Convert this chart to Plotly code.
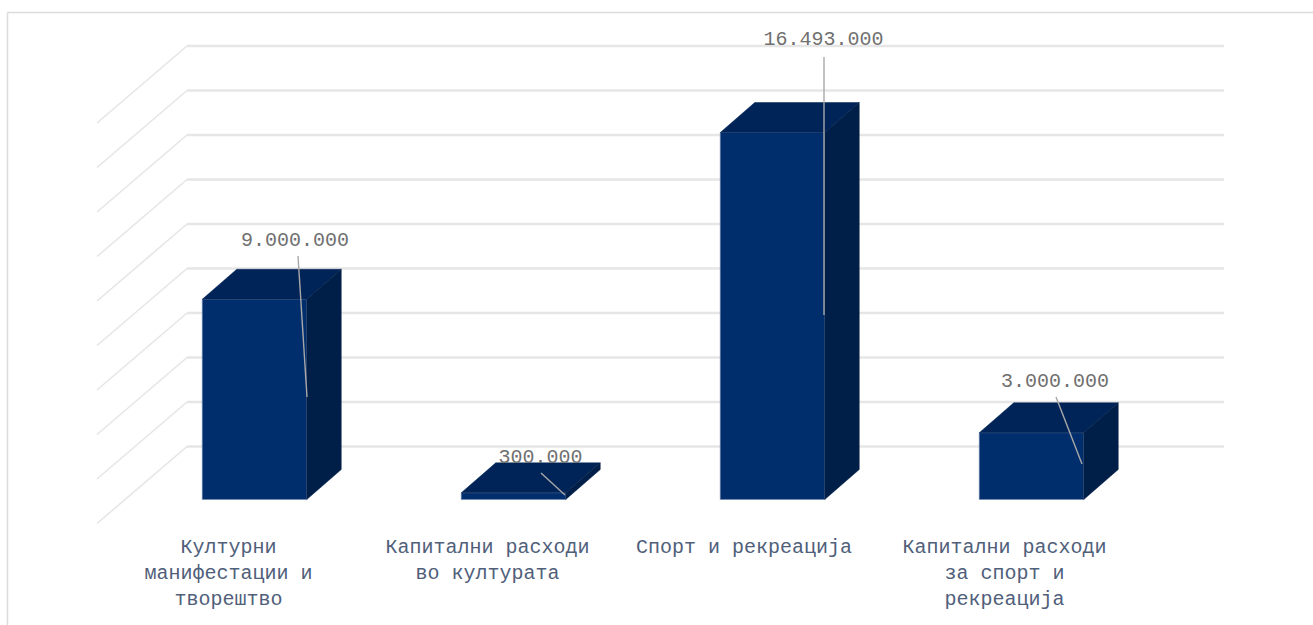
import plotly.graph_objects as go

# ---- data ----
categories = ["Културни<br>манифестации и<br>творештво",
              "Капитални расходи<br>во културата",
              "Спорт и рекреација",
              "Капитални расходи<br>за спорт и<br>рекреација"]
values = [9000000, 300000, 16493000, 3000000]
value_labels = ["9.000.000", "300.000", "16.493.000", "3.000.000"]
grid_values = [0, 2000000, 4000000, 6000000, 8000000, 10000000,
               12000000, 14000000, 16000000, 18000000]

# ---- scale set-up (pixels per axis unit, used only for layout geometry) ----
W, H, PLOT_B = 1313, 625, 530
PX_X = 259.0          # pixels per category step
PX_Y = 22.25e-6       # pixels per value unit
X0, Y0 = 254.5, 499.5 # pixel of category 0 centre / zero value on front plane
dx = lambda p: p / PX_X
dy = lambda p: p / PX_Y
xv = lambda p: (p - X0) / PX_X
yv = lambda p: (Y0 - p) / PX_Y

BAR_W = dx(104.5)
DEPTH_X, DEPTH_Y = dx(34.5), dy(30)
WALL_X, WALL_Y = dx(62), dy(53)       # back wall relative to the bar plane

# label centres and leader ends, pixel layout: (label x, label y, x1, y1, x2, y2)
label_layout = [(295, 241, 298, 256, 307, 397),
                (540.5, 458, 541, 473, 565, 495),
                (823.5, 40, 824, 57, 824, 315),
                (1055, 382, 1056, 397, 1082, 464)]
# small per-label pixel nudges of the category captions
caption_nudge = [-26, -26, -28.5, -27]

FRONT, TOP, SIDE = "#002d6b", "#002457", "#001f48"
GRID = "#e6e6e6"
FONT = "Liberation Mono"

xs = list(range(len(values)))
fig = go.Figure()

# front faces
fig.add_trace(go.Bar(x=xs, y=values, width=BAR_W, hoverinfo="skip",
                     marker=dict(color=FRONT, line=dict(color="#6f88ae", width=0.6))))

# top and side faces derive from the same values
for i, v in zip(xs, values):
    l, r = i - BAR_W / 2, i + BAR_W / 2
    fig.add_trace(go.Scatter(
        x=[l, l + DEPTH_X, r + DEPTH_X, r, l], y=[v, v + DEPTH_Y, v + DEPTH_Y, v, v],
        fill="toself", fillcolor=TOP, mode="lines", line=dict(color=TOP, width=0.5), hoverinfo="skip"))
    fig.add_trace(go.Scatter(
        x=[r, r + DEPTH_X, r + DEPTH_X, r, r], y=[v, v + DEPTH_Y, DEPTH_Y, 0, v],
        fill="toself", fillcolor=SIDE, mode="lines", line=dict(color=SIDE, width=0.5), hoverinfo="skip"))

# leader lines
for (lx, ly, x1, y1, x2, y2) in label_layout:
    fig.add_trace(go.Scatter(x=[xv(x1), xv(x2)], y=[yv(y1), yv(y2)], mode="lines",
                             line=dict(color="#a8a8a8", width=1.4), hoverinfo="skip"))

# value labels
fig.add_trace(go.Scatter(x=[xv(p[0]) for p in label_layout], y=[yv(p[1]) for p in label_layout],
                         mode="text", text=value_labels, textposition="middle center",
                         textfont=dict(family=FONT, size=20, color="#707070"),
                         hoverinfo="skip"))

# walls and grid, underneath the bars
shapes = []
right_end = xv(1224)
for g in grid_values:
    bx, by = xv(187), g + WALL_Y
    shapes.append(dict(type="line", layer="below", xref="x", yref="y", x0=bx, x1=right_end, y0=by, y1=by,
                       line=dict(color=GRID, width=2.4)))
    shapes.append(dict(type="line", layer="below", xref="x", yref="y", x0=bx, y0=by,
                       x1=bx - dx(90), y1=by - dy(77), line=dict(color=GRID, width=1.6)))
# frame of the cropped chart area
shapes.append(dict(type="line", layer="below", xref="paper", yref="paper", x0=7.5 / W, x1=1, y0=1 - 12.5 / PLOT_B, y1=1 - 12.5 / PLOT_B,
                   line=dict(color="#dcdcdc", width=1.5)))
shapes.append(dict(type="line", layer="below", xref="paper", yref="paper", x0=7.5 / W, x1=7.5 / W, y0=-95 / PLOT_B, y1=1 - 12.5 / PLOT_B,
                   line=dict(color="#dcdcdc", width=1.5)))

fig.update_layout(
    width=W, height=H, showlegend=False, autosize=False,
    paper_bgcolor="white", plot_bgcolor="white",
    margin=dict(l=0, r=0, t=0, b=H - PLOT_B, pad=0),
    shapes=shapes,
    xaxis=dict(range=[xv(0), xv(W)], showgrid=False, zeroline=False, showline=False,
               tickmode="array", tickvals=[i + dx(n) for i, n in zip(xs, caption_nudge)], ticktext=categories,
               tickangle=0, ticks="", ticklabelstandoff=2,
               tickfont=dict(family=FONT, size=20, color="#50607a")),
    yaxis=dict(range=[yv(PLOT_B), yv(0)], showgrid=False, zeroline=False, showline=False,
               showticklabels=False, ticks=""),
)

fig.write_html("out.html", config=dict(displayModeBar=False),
               post_script="document.body.style.margin='0';document.body.style.overflow='hidden';")
